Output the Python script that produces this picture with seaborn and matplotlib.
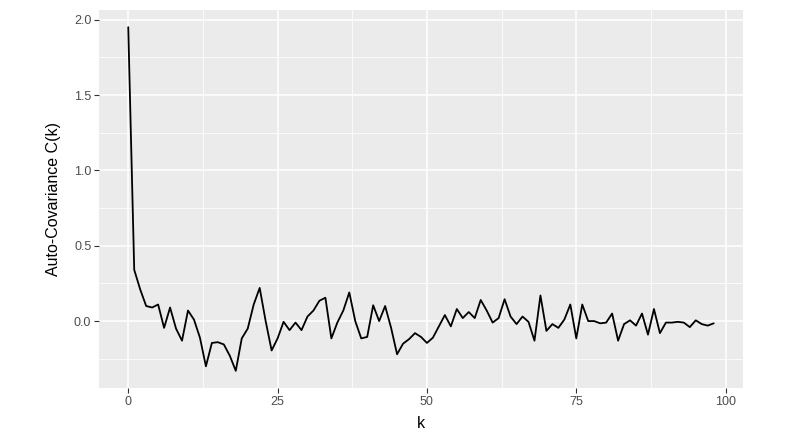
"""
Auto-covariance plot in a ggplot-like look, drawn with seaborn.
"""

import matplotlib
matplotlib.use("Agg")
import matplotlib.pyplot as plt
from matplotlib.ticker import MultipleLocator, FormatStrFormatter
import seaborn as sns
import pandas as pd

# lag values k = 0 .. 98
lags = list(range(99))

# auto-covariance C(k)
autocov = [
    1.95, 0.34, 0.21, 0.10, 0.09, 0.11, -0.045, 0.09, -0.05, -0.13,
    0.07, 0.01, -0.11, -0.30, -0.145, -0.14, -0.155, -0.23, -0.33, -0.115,
    -0.05, 0.11, 0.22, 0.0, -0.195, -0.115, -0.005, -0.06, -0.01, -0.06,
    0.03, 0.07, 0.135, 0.155, -0.115, -0.01, 0.07, 0.19, 0.0, -0.115,
    -0.105, 0.105, 0.0, 0.10, -0.045, -0.22, -0.15, -0.12, -0.08, -0.105,
    -0.145, -0.11, -0.035, 0.04, -0.035, 0.08, 0.02, 0.06, 0.02, 0.14,
    0.07, -0.01, 0.02, 0.145, 0.03, -0.02, 0.03, -0.005, -0.13, 0.17,
    -0.065, -0.02, -0.045, 0.01, 0.11, -0.115, 0.11, 0.0, 0.0, -0.015,
    -0.01, 0.05, -0.13, -0.02, 0.005, -0.03, 0.05, -0.09, 0.08, -0.08,
    -0.01, -0.01, -0.005, -0.01, -0.04, 0.005, -0.02, -0.03, -0.015,
]

x_ticks = [0, 25, 50, 75, 100]
y_ticks = [0.0, 0.5, 1.0, 1.5, 2.0]

sns.set_theme(style="darkgrid", rc={
    "axes.facecolor": "#EBEBEB",
    "grid.color": "white",
    "axes.edgecolor": "none",
})
plt.rcParams["font.family"] = ["Liberation Sans", "DejaVu Sans"]

df = pd.DataFrame({"k": lags, "C": autocov})

fig = plt.figure(figsize=(8.08, 4.47), dpi=100)
ax = fig.add_axes([0.1225, 0.132, 0.797, 0.8456])

sns.lineplot(data=df, x="k", y="C", ax=ax, color="black", linewidth=1.3)

# ggplot-style 5% expansion of the data range
xr = max(lags) - min(lags)
yr = max(autocov) - min(autocov)
ax.set_xlim(min(lags) - 0.05 * xr, max(lags) + 0.05 * xr)
ax.set_ylim(min(autocov) - 0.05 * yr, max(autocov) + 0.05 * yr)

ax.set_xticks(x_ticks)
ax.set_yticks(y_ticks)
ax.yaxis.set_major_formatter(FormatStrFormatter("%.1f"))
ax.xaxis.set_minor_locator(MultipleLocator(12.5))
ax.yaxis.set_minor_locator(MultipleLocator(0.25))

ax.grid(which="major", color="white", linewidth=1.1)
ax.grid(which="minor", color="white", linewidth=0.55)
ax.tick_params(which="major", length=3.5, width=0.8, color="#333333",
               labelsize=9, labelcolor="#4D4D4D", pad=2,
               bottom=True, left=True)
ax.tick_params(which="minor", length=0)

ax.set_xlabel("k", fontsize=11.5, color="black", labelpad=6)
ax.set_ylabel("Auto-Covariance C(k)", fontsize=11.5, color="black", labelpad=9)
for s in ax.spines.values():
    s.set_visible(False)

fig.savefig("out.png", dpi=100)
plt.close(fig)
